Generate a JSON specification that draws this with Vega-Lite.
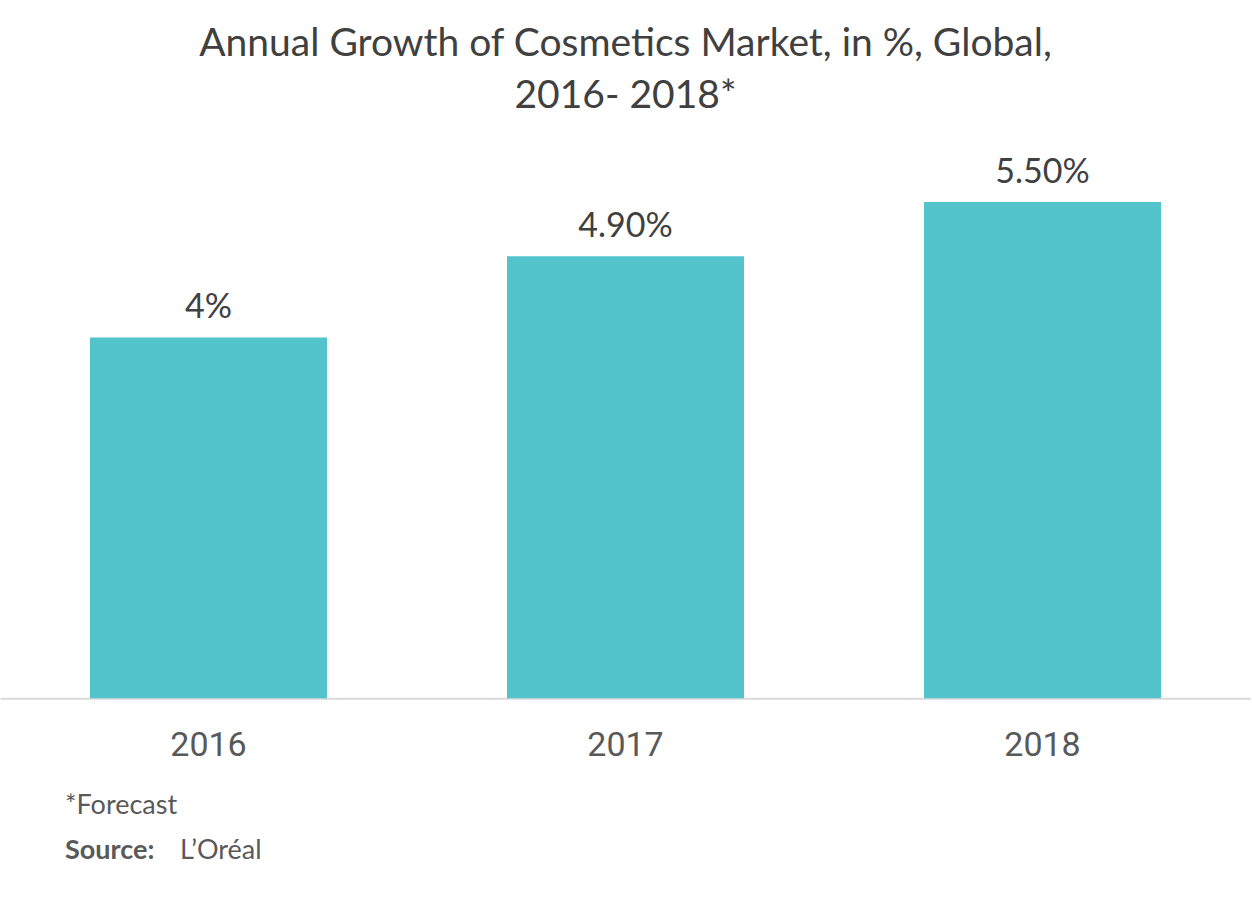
{
  "$schema": "https://vega.github.io/schema/vega-lite/v6.json",
  "autosize": {"type": "pad"},
  "padding": {"left": 0, "top": 25, "right": 0, "bottom": 0},
  "background": "white",
  "title": {
    "text": ["Annual Growth of Cosmetics Market, in %, Global,", "2016- 2018*"],
    "font": "Lato",
    "fontSize": 39,
    "fontWeight": "normal",
    "color": "#404040",
    "lineHeight": 52,
    "anchor": "middle",
    "frame": "group",
    "offset": 40
  },
  "config": {"view": {"stroke": null}, "concat": {"spacing": 0}},
  "vconcat": [
    {
      "width": 1251,
      "height": 541.2,
      "data": {"values": [
        {"year": "2016", "growth": 4, "label": "4%"},
        {"year": "2017", "growth": 4.9, "label": "4.90%"},
        {"year": "2018", "growth": 5.5, "label": "5.50%"}
      ]},
      "encoding": {
        "x": {"field": "year", "type": "ordinal",
          "scale": {"paddingInner": 0.4317, "paddingOuter": 0.2158},
          "axis": {"title": null, "labelAngle": 0, "ticks": false, "domainColor": "#D9D9D9", "domainWidth": 2,
            "labelFont": "Roboto", "labelFontSize": 34, "labelColor": "#595959", "labelPadding": 30}},
        "y": {"field": "growth", "type": "quantitative", "scale": {"domain": [0, 6], "nice": false}, "axis": null}
      },
      "layer": [
        {"mark": {"type": "bar", "color": "#53C4CB"}},
        {"mark": {"type": "text", "baseline": "alphabetic", "dy": -19, "font": "Lato", "fontSize": 34, "color": "#404040"},
         "encoding": {"text": {"field": "label"}}}
      ]
    },
    {
      "width": 1251,
      "height": 110,
      "layer": [
        {"data": {"values": [{"t": "*Forecast"}]},
         "mark": {"type": "text", "align": "left", "baseline": "alphabetic", "font": "Lato", "fontSize": 27, "color": "#595959"},
         "encoding": {"text": {"field": "t"}, "x": {"value": 65}, "y": {"value": 51}}},
        {"data": {"values": [{"t": "Source:"}]},
         "mark": {"type": "text", "align": "left", "baseline": "alphabetic", "font": "Lato", "fontSize": 27, "fontWeight": "bold", "color": "#595959"},
         "encoding": {"text": {"field": "t"}, "x": {"value": 65}, "y": {"value": 96}}},
        {"data": {"values": [{"t": "L’Oréal"}]},
         "mark": {"type": "text", "align": "left", "baseline": "alphabetic", "font": "Lato", "fontSize": 27, "color": "#595959"},
         "encoding": {"text": {"field": "t"}, "x": {"value": 180}, "y": {"value": 96}}}
      ]
    }
  ]
}
